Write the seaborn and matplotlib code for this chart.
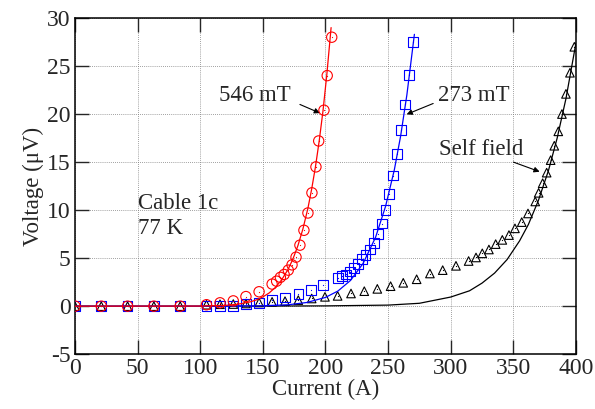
import numpy as np
import matplotlib
matplotlib.use("Agg")
import matplotlib.pyplot as plt
import seaborn as sns

i_546 = [0, 21, 42, 63, 84, 105, 115.8, 126.4, 136.5, 147, 157.4, 161, 164, 167, 170.3, 173.3,
         176.5, 179.6, 182.8, 186, 189.2, 192.4, 194.6, 198.8, 201.4, 205]
v_546 = [0, 0, 0, 0, 0, 0.15, 0.35, 0.55, 1.0, 1.5, 2.3, 2.6, 3.0, 3.3, 3.75, 4.3,
         5.1, 6.35, 7.9, 9.7, 11.8, 14.5, 17.2, 20.4, 24.0, 28.0]

i_273 = [0, 21, 42, 63, 84, 105, 115.8, 126.4, 136.5, 147, 157.4, 167.7, 178.4, 188.5, 198,
         210, 213.4, 216.6, 219.8, 223, 226.2, 229.4, 232, 235.3, 238.5, 241.7, 244.9,
         248, 251, 254.2, 257.3, 260.3, 263.5, 267, 270]
v_273 = [0, 0, 0, 0, 0, 0, 0.05, 0.05, 0.2, 0.3, 0.6, 0.9, 1.25, 1.67, 2.2,
         2.9, 3.1, 3.3, 3.6, 3.96, 4.4, 4.9, 5.3, 5.9, 6.6, 7.5, 8.6,
         10.0, 11.7, 13.6, 15.8, 18.3, 21.0, 24.1, 27.5]

i_self = [0, 21, 42, 63, 84, 105, 115.8, 126.4, 136.5, 147, 157.4, 167.7, 178.3, 189, 199.6,
          209.7, 220.4, 231, 241.4, 252, 262.1, 272.8, 283.4, 293.6, 304.2, 314.3, 320.2,
          325.2, 330.5, 335.9, 341.2, 346.5, 351.3, 356.7, 361.7, 367.5, 370.2, 373.4,
          376.6, 379.8, 382.7, 385.9, 388.8, 392, 395.2, 398.7]
v_self = [0, 0, 0, 0, 0, 0.15, 0.2, 0.22, 0.28, 0.38, 0.45, 0.52, 0.63, 0.8, 0.97,
          1.07, 1.32, 1.56, 1.8, 2.08, 2.43, 2.8, 3.4, 3.75, 4.2, 4.7, 5.07,
          5.5, 5.9, 6.46, 6.9, 7.4, 8.1, 8.75, 9.65, 10.9, 11.8, 12.8,
          13.9, 15.2, 16.7, 18.2, 20.0, 22.1, 24.3, 27.0]

# fitted curves
fit_i_546 = [0, 100, 120, 130, 140, 145, 150, 155, 160, 165, 170, 174, 178, 182, 186,
             189, 192, 195, 198, 201, 204.5]
fit_v_546 = [0, 0.01, 0.08, 0.2, 0.45, 0.66, 0.96, 1.37, 1.95, 2.74, 3.8, 4.9, 6.3, 8.04, 10.2,
             12.2, 14.5, 17.2, 20.3, 24.0, 29.0]

fit_i_273 = [0, 100, 150, 170, 185, 200, 210, 220, 230, 240, 248, 255, 260, 265, 271]
fit_v_273 = [0, 0.0, 0.035, 0.145, 0.38, 0.91, 1.58, 2.68, 4.44, 7.17, 10.4, 14.2, 17.7, 22.0, 28.3]

fit_i_self = [0, 100, 150, 200, 250, 275, 300, 315, 325, 335, 345, 355, 362, 370, 378,
              385, 392, 400]
fit_v_self = [0, 0, 0.01, 0.03, 0.11, 0.3, 0.95, 1.6, 2.4, 3.44, 4.85, 6.8, 8.5, 11.0, 14.1,
              17.5, 21.6, 27.4]

sns.set_theme(style="ticks")
plt.rcParams['font.family'] = ['Liberation Serif', 'DejaVu Serif']
plt.rcParams['axes.unicode_minus'] = False

fig = plt.figure(figsize=(5.95, 4.09), dpi=100)
ax = fig.add_axes([0.126, 0.134, 0.842, 0.822])

ax.grid(True, color='#808080', linestyle=(0, (1, 1.5)), linewidth=0.6)
ax.set_axisbelow(True)

# self field (black)
sns.lineplot(x=fit_i_self, y=fit_v_self, ax=ax, color='black', lw=0.9, sort=False,
             estimator=None, zorder=3)
sns.scatterplot(x=i_self, y=v_self, ax=ax, marker='^', s=38, fc='none', ec='black',
                linewidth=0.8, zorder=4)
sns.scatterplot(x=i_self, y=v_self, ax=ax, marker='.', s=3, color='black', lw=0, zorder=4)

# 273 mT (blue)
sns.lineplot(x=fit_i_273, y=fit_v_273, ax=ax, color='blue', lw=0.9, sort=False,
             estimator=None, zorder=5)
sns.scatterplot(x=i_273, y=v_273, ax=ax, marker='s', s=50, fc='none', ec='blue',
                linewidth=0.8, zorder=6)
sns.scatterplot(x=i_273, y=v_273, ax=ax, marker='.', s=3, color='blue', lw=0, zorder=6)

# 546 mT (red)
sns.lineplot(x=fit_i_546, y=fit_v_546, ax=ax, color='red', lw=0.9, sort=False,
             estimator=None, zorder=7)
sns.scatterplot(x=i_546, y=v_546, ax=ax, marker='o', s=55, fc='none', ec='red',
                linewidth=0.8, zorder=8)
sns.scatterplot(x=i_546, y=v_546, ax=ax, marker='.', s=3, color='red', lw=0, zorder=8)

ax.set_xlim(0, 400)
ax.set_ylim(-5, 30)
ax.set_xticks(range(0, 401, 50))
ax.set_yticks(range(-5, 31, 5))
ax.tick_params(direction='in', length=10, width=1, top=True, right=True, labelsize=17, pad=3)
for sp in ax.spines.values():
    sp.set_linewidth(1.1)
    sp.set_color('black')
    sp.set_visible(True)

ax.set_xlabel("Current (A)", fontsize=16.5, labelpad=0)
ax.set_ylabel("Voltage (μV)", fontsize=16.5, labelpad=2)

# annotations
arr = dict(arrowstyle='-|>', color='black', lw=0.8, mutation_scale=8, shrinkA=0, shrinkB=0)
ax.text(172, 21.9, "546 mT", fontsize=16.5, ha='right', va='center')
ax.annotate("", xy=(195.6, 20.1), xytext=(179.6, 21.0), arrowprops=arr)
ax.text(290, 21.9, "273 mT", fontsize=16.5, ha='left', va='center')
ax.annotate("", xy=(264.8, 19.97), xytext=(286, 21.1), arrowprops=arr)
ax.text(291, 16.35, "Self field", fontsize=16.5, ha='left', va='center')
ax.annotate("", xy=(371, 14.0), xytext=(350, 15.0), arrowprops=arr)
ax.text(50.3, 10.7, "Cable 1c", fontsize=16.5, ha='left', va='center')
ax.text(50.3, 8.1, "77 K", fontsize=16.5, ha='left', va='center')

fig.savefig("out.png", dpi=100)
